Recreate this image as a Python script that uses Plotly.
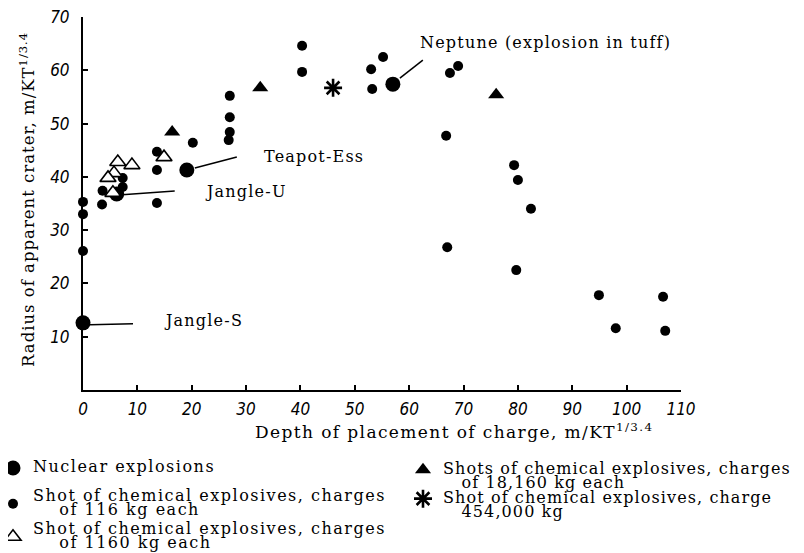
import plotly.graph_objects as go

# ---------------- data ----------------
# Nuclear explosions
nuc_names = ["Jangle-S", "Jangle-U", "Teapot-Ess", "Neptune (explosion in tuff)"]
nuc_x = [0.0, 6.2, 19.1, 57.0]
nuc_y = [12.6, 36.8, 41.3, 57.4]

# chemical explosives, 116 kg each
c116_x = [0.0, 0.0, 0.0, 3.5, 3.6, 7.3, 7.3, 13.6, 13.6, 13.6, 20.2, 27.0, 27.0, 27.0, 26.8,
          40.3, 40.3, 53.0, 55.2, 53.2, 67.5, 69.0, 66.8, 79.3, 80.0, 82.4, 67.0, 79.7,
          94.9, 98.0, 106.7, 107.1]
c116_y = [35.3, 33.0, 26.1, 34.8, 37.4, 39.8, 38.1, 44.7, 41.3, 35.1, 46.4, 55.2, 51.2, 48.4, 46.9,
          64.6, 59.7, 60.2, 62.5, 56.5, 59.5, 60.8, 47.7, 42.2, 39.4, 34.0, 26.8, 22.5,
          17.8, 11.6, 17.5, 11.1]

# chemical explosives, 1160 kg each
c1160_x = [6.4, 9.0, 5.7, 4.6, 5.5, 14.9]
c1160_y = [42.8, 42.2, 40.7, 39.8, 37.0, 43.7]

# chemical explosives, 18,160 kg each
c18160_x = [16.4, 32.6, 76.0]
c18160_y = [48.4, 56.7, 55.4]

# chemical explosive, 454,000 kg
c454_x = [46.0]
c454_y = [56.7]

x_ticks = [0, 10, 20, 30, 40, 50, 60, 70, 80, 90, 100, 110]
y_ticks = [10, 20, 30, 40, 50, 60, 70]

NB = "\u00a0"
leg_nuc = ["Nuclear explosions"]
leg_116 = ["Shot of chemical explosives, charges", NB * 4 + "of 116 kg each"]
leg_1160 = ["Shot of chemical explosives, charges", NB * 4 + "of 1160 kg each"]
leg_18160 = ["Shots of chemical explosives, charges", NB * 3 + "of 18,160 kg each"]
leg_454 = ["Shot of chemical explosives, charge", NB * 3 + "454,000 kg"]

x_title = "Depth of placement of charge, m/KT<sup>1/3.4</sup>"
y_title = "Radius of apparent crater, m/KT<sup>1/3.4</sup>"

# ---------------- figure ----------------
# the page body has an 8px margin, so the figure is 8px smaller than the window
W, H = 796, 545
ML, MR, MT, MB = 75, 123, 9, 163
PW, PH = W - ML - MR, H - MT - MB
OFF = 8


def px_x(p):  # p: pixel in the window
    return (p - OFF - ML) / PW


def px_y(p):
    return (H - MB - (p - OFF)) / PH


serif = "DejaVu Serif"
tickfont = dict(family="Liberation Sans Narrow, DejaVu Sans Condensed, Arial Narrow, sans-serif",
                size=17, color="black", style="italic")


def spaced(text, ls, size=None):
    st = "letter-spacing:%spx" % ls
    if size:
        st += ";font-size:%spx" % size
    return "<span style='%s'>%s</span>" % (st, text)


def leg_text(lines, ls=1.5):
    return "<br>".join(spaced(t, ls, 16) for t in lines)


legfont = dict(family=serif, size=11, color="black")

fig = go.Figure()

fig.add_trace(go.Scatter(
    x=c116_x, y=c116_y, mode="markers", name=leg_text(leg_116), legend="legend2",
    marker=dict(symbol="circle", size=10, color="black"), cliponaxis=False))
fig.add_trace(go.Scatter(
    x=nuc_x, y=nuc_y, mode="markers", name=leg_text(leg_nuc), legend="legend",
    marker=dict(symbol="circle", size=15, color="black"), cliponaxis=False))
fig.add_trace(go.Scatter(
    x=c1160_x, y=c1160_y, mode="markers", name=leg_text(leg_1160), legend="legend3",
    marker=dict(symbol="triangle-up", size=14, color="white",
                line=dict(color="black", width=1.6)), cliponaxis=False))
fig.add_trace(go.Scatter(
    x=c18160_x, y=c18160_y, mode="markers", name=leg_text(leg_18160, 1.1), legend="legend4",
    marker=dict(symbol="triangle-up", size=14, color="black"), cliponaxis=False))
fig.add_trace(go.Scatter(
    x=c454_x, y=c454_y, mode="markers", name=leg_text(leg_454, 1.1), legend="legend5",
    marker=dict(symbol="asterisk", size=15, color="black",
                line=dict(color="black", width=2.6)), cliponaxis=False))

# leader lines (pixel offsets from the labelled point) and labels
leader = [  # (dx0, dy0, dx1, dy1) in px, y positive up
    (7, -2, 50, -1),
    (2, -1, 58, 3),
    (8, 2, 50, 13),
    (7, 6, 30, 24),
]
label_shift = [(79, 2), (86, 2), (75, 13), (25, 42)]

shapes = []
annotations = []
for i in range(len(nuc_names)):
    dx0, dy0, dx1, dy1 = leader[i]
    shapes.append(dict(type="line", xref="x", yref="y", xsizemode="pixel", ysizemode="pixel",
                       xanchor=nuc_x[i], yanchor=nuc_y[i], x0=dx0, x1=dx1, y0=dy0, y1=dy1,
                       line=dict(color="black", width=1.5)))
    sx, sy = label_shift[i]
    annotations.append(dict(x=nuc_x[i], y=nuc_y[i], xref="x", yref="y",
                            text=spaced(nuc_names[i], 1.2),
                            showarrow=False, xanchor="left", yanchor="middle",
                            xshift=sx, yshift=sy, font=dict(family=serif, size=16, color="black")))

annotations.append(dict(x=px_x(454), y=px_y(444), xref="paper", yref="paper",
                        text=spaced(x_title, 1.4),
                        showarrow=False, xanchor="center", yanchor="bottom",
                        font=dict(family=serif, size=17, color="black")))
annotations.append(dict(x=px_x(27), y=px_y(200), xref="paper", yref="paper",
                        text=spaced(y_title, 1.0),
                        showarrow=False, xanchor="center", yanchor="middle", textangle=-90,
                        font=dict(family=serif, size=16.5, color="black")))

leg_common = dict(font=legfont, bgcolor="rgba(0,0,0,0)", borderwidth=0,
                  xanchor="left", yanchor="middle", orientation="v", itemwidth=30)

fig.update_layout(
    width=W, height=H,
    margin=dict(l=ML, r=MR, t=MT, b=MB, autoexpand=False),
    paper_bgcolor="white", plot_bgcolor="white",
    showlegend=True,
    legend=dict(x=px_x(-7), y=px_y(468), valign="middle", **leg_common),
    legend2=dict(x=px_x(-7), y=px_y(504), valign="middle", **leg_common),
    legend3=dict(x=px_x(-7), y=px_y(537), valign="middle", **leg_common),
    legend4=dict(x=px_x(403), y=px_y(477), valign="top", **leg_common),
    legend5=dict(x=px_x(403), y=px_y(506), valign="top", **leg_common),
    xaxis=dict(range=[0, 110], tickvals=x_ticks, ticktext=[str(v) for v in x_ticks],
               showgrid=False, zeroline=False, showline=True, linecolor="black", linewidth=2,
               ticks="inside", ticklen=5, tickwidth=1.5, tickcolor="black",
               tickfont=tickfont, ticklabelstandoff=3, ticklabeloverflow="allow"),
    yaxis=dict(range=[0, 70], tickvals=y_ticks, ticktext=[str(v) for v in y_ticks],
               showgrid=False, zeroline=False, showline=True, linecolor="black", linewidth=2,
               ticks="inside", ticklen=5, tickwidth=1.5, tickcolor="black",
               tickfont=tickfont, ticklabelstandoff=8, ticklabeloverflow="allow"),
    shapes=shapes,
    annotations=annotations,
)

fig.write_html("out.html")
